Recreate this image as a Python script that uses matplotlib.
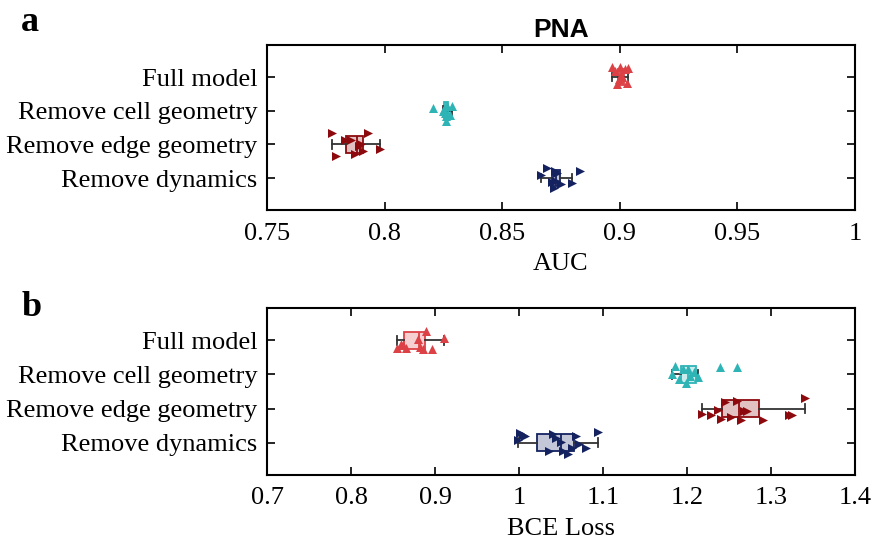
import numpy as np
import matplotlib
matplotlib.use("Agg")
import matplotlib.pyplot as plt

categories = ["Full model", "Remove cell geometry", "Remove edge geometry", "Remove dynamics"]
colors = ["#dc4146", "#2fb4b6", "#8c0a0e", "#142360"]
markers = ["^", "^", ">", ">"]

# Panel a: AUC
auc_full = [0.8965, 0.8980, 0.8990, 0.8995, 0.9000, 0.9005, 0.9010, 0.9020, 0.9030, 0.9035]
auc_cell = [0.8206, 0.8248, 0.8252, 0.8256, 0.8260, 0.8263, 0.8266, 0.8270, 0.8276, 0.8285]
auc_edge = [0.7775, 0.7795, 0.7830, 0.7855, 0.7875, 0.7890, 0.7900, 0.7910, 0.7930, 0.7980]
auc_dyn = [0.8665, 0.8690, 0.8710, 0.8720, 0.8725, 0.8730, 0.8735, 0.8750, 0.8795, 0.8830]

# Panel b: BCE loss
bce_full = [0.855, 0.859, 0.862, 0.866, 0.880, 0.882, 0.886, 0.889, 0.896, 0.911]
bce_cell = [1.182, 1.186, 1.191, 1.195, 1.199, 1.201, 1.204, 1.208, 1.213, 1.239, 1.260]
bce_edge = [1.218, 1.229, 1.237, 1.240, 1.245, 1.252, 1.260, 1.264, 1.268, 1.271, 1.290, 1.322, 1.325, 1.340]
bce_dyn = [0.999, 1.001, 1.005, 1.007, 1.036, 1.040, 1.044, 1.050, 1.052, 1.058, 1.063, 1.068, 1.071, 1.080, 1.094]

auc_ticks = [0.75, 0.8, 0.85, 0.9, 0.95, 1.0]
auc_ticklabels = ["0.75", "0.8", "0.85", "0.9", "0.95", "1"]
bce_ticks = [0.7, 0.8, 0.9, 1.0, 1.1, 1.2, 1.3, 1.4]
bce_ticklabels = ["0.7", "0.8", "0.9", "1", "1.1", "1.2", "1.3", "1.4"]

serif = ["Liberation Serif", "DejaVu Serif"]

fig = plt.figure(figsize=(8.79, 5.41), dpi=100)
ax_a = fig.add_axes([0.3038, 0.6118, 0.6689, 0.3050])
ax_b = fig.add_axes([0.3038, 0.1220, 0.6689, 0.3087])

rng = np.random.default_rng(3)


def draw(ax, data, xlim, ticks, ticklabels, xlabel):
    pos = np.arange(1, len(data) + 1)
    for i, (vals, c, m) in enumerate(zip(data, colors, markers)):
        bp = ax.boxplot([vals], positions=[pos[i]], vert=False, widths=0.5,
                        patch_artist=True, showfliers=False, whis=1.5)
        for b in bp["boxes"]:
            b.set_facecolor(matplotlib.colors.to_rgba(c, 0.25))
            b.set_edgecolor(c)
            b.set_linewidth(1.3)
        for med in bp["medians"]:
            med.set_color(c)
            med.set_linewidth(1.3)
        for w in bp["whiskers"]:
            w.set_color("#333333")
            w.set_linewidth(1.3)
        for cp in bp["caps"]:
            cp.set_color("#333333")
            cp.set_linewidth(1.3)
        jit = rng.uniform(-0.35, 0.35, len(vals))
        ax.scatter(vals, pos[i] + jit, marker=m, s=42, color=c, zorder=3, linewidths=0)
    ax.set_ylim(4.95, 0.05)
    ax.set_xlim(*xlim)
    ax.set_yticks(pos)
    ax.set_yticklabels(categories, family=serif, fontsize=19)
    ax.set_xticks(ticks)
    ax.set_xticklabels(ticklabels, family=serif, fontsize=19)
    ax.set_xlabel(xlabel, family=serif, fontsize=19, labelpad=6)
    ax.tick_params(axis="x", pad=9)
    ax.tick_params(axis="y", pad=7)
    ax.tick_params(direction="in", top=True, right=True, length=6, width=1.2)
    for s in ax.spines.values():
        s.set_linewidth(1.5)


draw(ax_a, [auc_full, auc_cell, auc_edge, auc_dyn], (0.75, 1.0), auc_ticks, auc_ticklabels, "AUC")
draw(ax_b, [bce_full, bce_cell, bce_edge, bce_dyn], (0.7, 1.4), bce_ticks, bce_ticklabels, "BCE Loss")

ax_a.set_title("PNA", fontsize=19, fontweight="bold", family=["Liberation Sans", "DejaVu Sans"], pad=6)
fig.text(0.024, 0.958, "a", fontsize=26, fontweight="bold", family=serif, va="center")
fig.text(0.024, 0.432, "b", fontsize=26, fontweight="bold", family=serif, va="center")

fig.savefig("out.png", dpi=100)
